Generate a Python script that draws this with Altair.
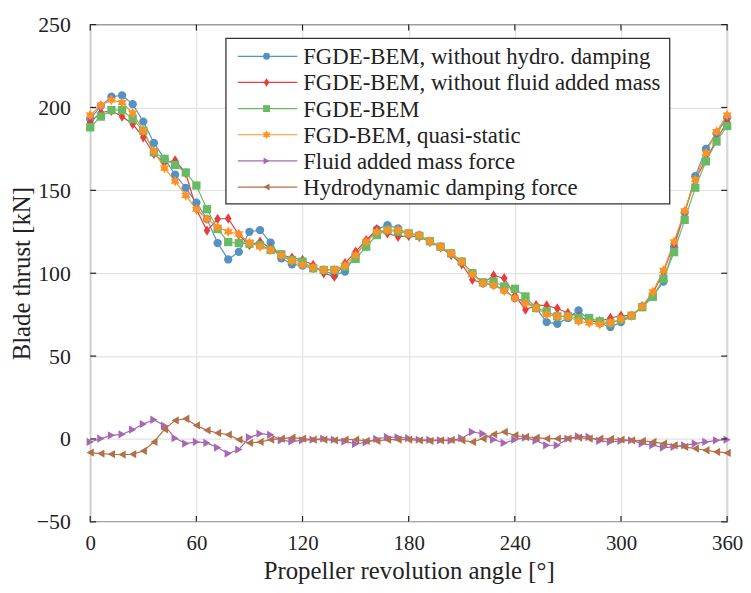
import altair as alt
import pandas as pd

angle = [0, 6, 12, 18, 24, 30, 36, 42, 48, 54, 60, 66, 72, 78, 84, 90, 96, 102, 108, 114,
         120, 126, 132, 138, 144, 150, 156, 162, 168, 174, 180, 186, 192, 198, 204, 210,
         216, 222, 228, 234, 240, 246, 252, 258, 264, 270, 276, 282, 288, 294, 300, 306,
         312, 318, 324, 330, 336, 342, 348, 354, 360]

no_damping = [193, 201, 206.5, 207.3, 202, 191.5, 178.6, 169, 159.4, 151.5, 142.6, 132.7,
              118.2, 108.3, 112.9, 125, 126, 118.5, 109, 105.4, 104.6, 103, 101.6, 99, 101,
              111, 119, 126.5, 129, 127, 124, 123, 119.3, 116, 112, 107, 100, 94, 93, 90, 85,
              83, 79, 70.5, 69.5, 73, 77.5, 72, 70, 67.5, 70.5, 74.4, 80, 86, 95, 115.7,
              136.6, 158.5, 175, 184.4, 194]
no_added_mass = [191, 197, 198, 194.5, 190, 182, 172, 166.7, 168, 160.4, 138.6, 125.7, 132.7,
                 133, 123.2, 117, 119, 115, 111, 109.4, 108, 105, 100, 98, 106, 113, 120,
                 126.5, 124, 122, 122.5, 122, 119, 115.5, 111, 105.4, 96, 94, 98.6, 97, 86.6,
                 78, 80.7, 80.5, 78.7, 76, 74, 71, 71, 73, 74.4, 74.4, 80, 88, 100.7, 117.7,
                 137, 156.5, 168.5, 180.5, 191.4]
fgde_bem = [188, 194.5, 198.4, 198.4, 193, 186, 173, 169, 165.3, 160.8, 152.9, 138.6, 126.7,
            118.8, 118.2, 117.8, 117, 114, 111.4, 108, 107, 103, 102, 102, 104, 108.6, 116,
            123, 126, 125, 124, 122.5, 119.3, 116, 112, 107, 100, 94.5, 95, 92, 90.6, 86, 79,
            77, 74, 74, 73, 73, 71, 70, 72, 74.4, 79.5, 85.8, 96.7, 112.7, 132.2, 151.6,
            167.5, 179.5, 188.8]
quasi_static = [195.4, 201.4, 204.5, 203, 196.6, 186, 173.7, 163.4, 155.5, 147, 138.6, 132.7,
                127.7, 125, 123.7, 118.4, 116, 114, 110.6, 107.4, 105, 103.4, 102, 102, 104.6,
                111, 119, 125, 126, 126, 124, 122.9, 119.3, 116, 112, 107, 99.4, 94, 92.6,
                89.4, 85, 82, 79, 75, 74, 74, 71, 70, 69.2, 70, 72.4, 74.4, 80, 88.8, 101.7,
                119, 137.6, 156.5, 172.5, 185.4, 195.4]
added_mass_force = [-1.8, 0.2, 2.2, 2.8, 5.6, 9, 11.6, 8, 0.5, -2.8, -1.8, -2.4, -5.2, -8.8,
                    -6.4, 1, 3.2, 2.5, -0.8, -1.5, -0.8, -0.4, 0.2, -0.4, -1.5, -3, -2, 0,
                    1.2, 1, 0.5, -0.4, -0.5, -0.8, -1, 0.5, 4.2, 3.2, -0.4, -2.4, -0.4, 0.8,
                    -1, -3.8, -3.8, 0.2, 1.6, 1.2, -1.2, -1.8, -1.2, -0.8, -2.8, -3.8, -5.2,
                    -4.8, -3.8, -2.8, -1.8, -0.8, -0.4]
damping_force = [-8.2, -8.8, -9.2, -9.4, -9.2, -7.2, -1.8, 5.8, 11.2, 12.2, 8.2, 5.2, 3.6,
                 2.6, -0.4, -2.4, -1.8, -0.4, 0.2, 0.8, 0.2, -0.4, -0.4, -0.8, -0.4, -0.4,
                 -1.2, -1.2, -0.4, -0.4, -0.4, -0.8, -1.2, -0.8, -0.6, -0.8, -1.8, 0.2, 2.8,
                 4.2, 2.2, 1.2, 0.8, 0.2, 0.2, 0.2, 0.8, 0.2, 0.2, 0, -0.4, -0.8, -1.2, -1.8,
                 -2.8, -3.8, -4.8, -5.8, -6.8, -7.8, -8.4]

series_names = ["FGDE-BEM, without hydro. damping",
                "FGDE-BEM, without fluid added mass",
                "FGDE-BEM",
                "FGD-BEM, quasi-static",
                "Fluid added mass force",
                "Hydrodynamic damping force"]
series_values = [no_damping, no_added_mass, fgde_bem, quasi_static, added_mass_force, damping_force]
colors = ["#5591c2", "#e83c3e", "#67bb65", "#ff9226", "#a768b1", "#b36f48"]
HEXAGRAM = ("M0,-1.25L0.36,-0.625L1.08,-0.625L0.72,0L1.08,0.625L0.36,0.625L0,1.25"
            "L-0.36,0.625L-1.08,0.625L-0.72,0L-1.08,-0.625L-0.36,-0.625Z")
shapes = ["circle",
          "M0,-1.25L0.8,0L0,1.25L-0.8,0Z",
          "square",
          HEXAGRAM,
          "triangle-right",
          "triangle-left"]

x_ticks = [0, 60, 120, 180, 240, 300, 360]
y_ticks = [-50, 0, 50, 100, 150, 200, 250]

rows = []
for i, (name, vals) in enumerate(zip(series_names, series_values)):
    for a, v in zip(angle, vals):
        rows.append({"series": name, "order": i, "angle": a, "value": v})
df = pd.DataFrame(rows)

W, H = 643, 502
FONT = "Liberation Serif"

xscale = alt.Scale(domain=[0, 360], nice=False, zero=False)
yscale = alt.Scale(domain=[-50, 250], nice=False, zero=False)
color_scale = alt.Scale(domain=series_names, range=colors)
shape_scale = alt.Scale(domain=series_names, range=shapes)

x_enc = alt.X("angle:Q", scale=xscale,
              axis=alt.Axis(values=x_ticks, title="Propeller revolution angle [°]",
                            grid=True, ticks=False, domain=False, labelPadding=11,
                            labelFlush=False, titlePadding=5, labelFontSize=21,
                            titleFontSize=25, format="d", labelFont=FONT, titleFont=FONT))
y_enc = alt.Y("value:Q", scale=yscale,
              axis=alt.Axis(values=y_ticks, title="Blade thrust [kN]",
                            grid=True, ticks=False, domain=False, labelPadding=20,
                            labelFlush=False, titlePadding=2, labelFontSize=22,
                            titleFontSize=25, format="d", labelFont=FONT, titleFont=FONT))

base = alt.Chart(df).encode(x=x_enc, y=y_enc)
lines = base.mark_line(strokeWidth=1.2).encode(
    color=alt.Color("series:N", scale=color_scale, legend=None),
    detail="order:O")
points = base.mark_point(filled=True, opacity=1, size=70).encode(
    color=alt.Color("series:N", scale=color_scale, legend=None),
    shape=alt.Shape("series:N", scale=shape_scale, legend=None),
    order=alt.Order("order:Q"))

xt = pd.DataFrame({"angle": x_ticks})
yt = pd.DataFrame({"value": y_ticks})
tick_style = dict(color="#222", strokeWidth=1.2)
xt_bottom = alt.Chart(xt).mark_rule(**tick_style).encode(x=x_enc, y=alt.value(H), y2=alt.value(H - 6))
xt_top = alt.Chart(xt).mark_rule(**tick_style).encode(x=x_enc, y=alt.value(0), y2=alt.value(6))
yt_left = alt.Chart(yt).mark_rule(**tick_style).encode(y=y_enc, x=alt.value(0), x2=alt.value(6))
yt_right = alt.Chart(yt).mark_rule(**tick_style).encode(y=y_enc, x=alt.value(W), x2=alt.value(W - 6))

one = pd.DataFrame({"k": [0]})
legend_layers = [
    alt.Chart(one).mark_rect(fill="white", stroke="#333", strokeWidth=1.3).encode(
        x=alt.value(137), x2=alt.value(585), y=alt.value(14), y2=alt.value(181))
]
for i, name in enumerate(series_names):
    yy = 32 + i * 26.4
    legend_layers.append(alt.Chart(one).mark_rule(color=colors[i], strokeWidth=1.2).encode(
        x=alt.value(149), x2=alt.value(209), y=alt.value(yy)))
    legend_layers.append(alt.Chart(one).mark_point(shape=shapes[i], filled=True, opacity=1,
                                                   size=48, color=colors[i]).encode(
        x=alt.value(178), y=alt.value(yy)))
    legend_layers.append(alt.Chart(one).mark_text(align="left", baseline="middle", font=FONT,
                                                  fontSize=23, color="#222").encode(
        x=alt.value(215), y=alt.value(yy + 1), text=alt.value(name)))

chart = alt.layer(lines, points, xt_bottom, xt_top, yt_left, yt_right, *legend_layers).properties(
    width=W, height=H,
    autosize=alt.AutoSizeParams(type="none"),
    padding={"left": 83, "top": 14, "right": 16, "bottom": 61},
).configure_view(stroke="#222", strokeWidth=1.2).configure_axis(
    labelFont=FONT, titleFont=FONT, labelColor="#222", titleColor="#222",
    titleFontWeight="normal", gridColor="#e2e2e2", gridWidth=1.2)

chart.save("out.html", embed_options={"renderer": "svg", "actions": False})
